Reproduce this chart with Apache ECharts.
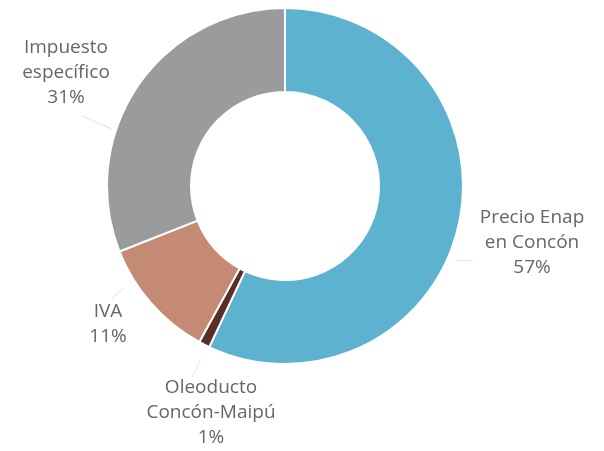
<!DOCTYPE html>
<html>
<head>
<meta charset="utf-8">
<script src="https://cdn.jsdelivr.net/npm/echarts@6/dist/echarts.min.js"></script>
<style>html,body{margin:0;padding:0;background:#fff}#c{width:604px;height:451px}</style>
</head>
<body>
<div id="c"></div>
<script>
const categories = ['Precio Enap\nen Concón', 'Oleoducto\nConcón-Maipú', 'IVA', 'Impuesto\nespecífico'];
const values = [57, 1, 11, 31];
const colors = ['#5db3cf', '#5b2f25', '#c48a73', '#9a9b9d'];
const labelPos = [[532, 243], [211, 413], [108, 324], [66, 73]];
const guidePts = [
  [[455, 260], [473, 261]],
  [[201, 359], [192, 377]],
  [[124, 288], [112, 298]],
  [[112, 129], [82, 116]]
];

const chart = echarts.init(document.getElementById('c'));
chart.setOption({
  animation: false,
  series: [{
    type: 'pie',
    center: [285, 186],
    radius: [94, 178],
    startAngle: 90,
    clockwise: true,
    avoidLabelOverlap: false,
    itemStyle: { borderColor: '#fff', borderWidth: 2 },
    label: {
      show: true,
      formatter: p => p.name + '\n' + p.value + '%',
      color: '#666666',
      fontFamily: 'Open Sans',
      fontSize: 19,
      lineHeight: 25,
      align: 'center'
    },
    labelLine: { show: true, length: 8, length2: 8, lineStyle: { color: '#e4e4e4', width: 1 } },
    labelLayout: function (params) {
      const p = labelPos[params.dataIndex];
      return { x: p[0], y: p[1], align: 'center', verticalAlign: 'middle', labelLinePoints: guidePts[params.dataIndex] };
    },
    data: categories.map((c, i) => ({ name: c, value: values[i], itemStyle: { color: colors[i] } }))
  }]
});
</script>
</body>
</html>
